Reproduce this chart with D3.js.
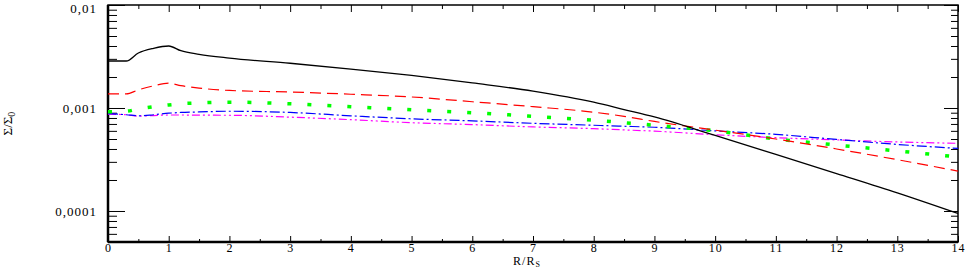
<!DOCTYPE html>
<html>
<head>
<meta charset="utf-8">
<script src="https://cdn.jsdelivr.net/npm/d3@7"></script>
<style>
  body { margin: 0; background: #fff; }
  svg text { font-family: "Liberation Serif", "DejaVu Serif", serif; }
</style>
</head>
<body>
<div id="chart"></div>
<script>
// radius values (R/Rs) shared by all curves
var radius = [0, 0.3, 0.5, 0.75, 1, 1.2, 1.5, 2, 3, 4, 5, 6, 7, 8, 8.5, 9, 10, 11, 12, 13, 14];

// surface density ratio, one array per curve
var sigmaBlack   = [2.86e-3, 2.86e-3, 3.42e-3, 3.8e-3, 4.0e-3, 3.6e-3, 3.32e-3, 3.05e-3, 2.72e-3, 2.39e-3, 2.07e-3, 1.75e-3, 1.46e-3, 1.14e-3, 9.66e-4, 8.18e-4, 5.41e-4, 3.54e-4, 2.31e-4, 1.5e-4, 9.46e-5];
var sigmaRed     = [1.37e-3, 1.37e-3, 1.5e-3, 1.64e-3, 1.74e-3, 1.65e-3, 1.56e-3, 1.48e-3, 1.43e-3, 1.36e-3, 1.28e-3, 1.15e-3, 1.03e-3, 9.1e-4, 8.3e-4, 7.4e-4, 6.1e-4, 5.0e-4, 4.0e-4, 3.15e-4, 2.44e-4];
var sigmaGreen   = [9.2e-4, 9.3e-4, 9.8e-4, 1.03e-3, 1.07e-3, 1.1e-3, 1.12e-3, 1.14e-3, 1.1e-3, 1.03e-3, 9.6e-4, 9.0e-4, 8.3e-4, 7.6e-4, 7.2e-4, 6.8e-4, 6.0e-4, 5.0e-4, 4.37e-4, 3.83e-4, 3.35e-4];
var sigmaBlue    = [8.8e-4, 8.6e-4, 8.4e-4, 8.6e-4, 8.9e-4, 9.05e-4, 9.15e-4, 9.3e-4, 9.05e-4, 8.4e-4, 7.85e-4, 7.5e-4, 7.1e-4, 6.8e-4, 6.65e-4, 6.5e-4, 6.0e-4, 5.55e-4, 4.95e-4, 4.43e-4, 4.05e-4];
var sigmaMagenta = [8.7e-4, 8.6e-4, 8.35e-4, 8.45e-4, 8.55e-4, 8.55e-4, 8.52e-4, 8.5e-4, 8.15e-4, 7.7e-4, 7.2e-4, 6.9e-4, 6.55e-4, 6.3e-4, 6.13e-4, 5.96e-4, 5.5e-4, 5.15e-4, 4.9e-4, 4.68e-4, 4.54e-4];

var xTicks = [0, 1, 2, 3, 4, 5, 6, 7, 8, 9, 10, 11, 12, 13, 14];
var yTicks = [0.0001, 0.001, 0.01];
var yTickLabels = ["0,0001", "0,001", "0,01"];

var margin = {top: 5, right: 14, bottom: 26, left: 108},
    width = 972 - margin.left - margin.right,
    height = 268 - margin.top - margin.bottom;

var svg = d3.select("#chart")
  .append("svg")
    .attr("width", 972)
    .attr("height", 268)
  .append("g")
    .attr("transform", "translate(" + margin.left + "," + margin.top + ")");

var x = d3.scaleLinear().domain([0, 14]).range([0, width]);
var y = d3.scaleLog().domain([5e-5, 0.01]).range([height, 0]);

// minor ticks
var xMinor = d3.range(0.5, 14, 1);
var yMinor = [];
[1e-5, 1e-4, 1e-3].forEach(function(d) {
  for (var k = 2; k <= 9; k++) {
    var v = d * k;
    if (v >= 5e-5 && v <= 0.01) yMinor.push(v);
  }
});

function styleAxis(g) {
  g.select(".domain").remove();
  g.selectAll("line").attr("stroke", "#000").attr("stroke-width", 1);
}

// bottom
svg.append("g")
  .attr("transform", "translate(0," + height + ")")
  .call(d3.axisBottom(x).tickValues(xTicks).tickSize(-6).tickPadding(1))
  .call(styleAxis)
  .selectAll("text").style("font-size", "12px").attr("fill", "#000").style("letter-spacing", "1px");
svg.append("g")
  .attr("transform", "translate(0," + height + ")")
  .call(d3.axisBottom(x).tickValues(xMinor).tickSize(-3).tickFormat(""))
  .call(styleAxis);
// top
svg.append("g")
  .call(d3.axisTop(x).tickValues(xTicks).tickSize(-7).tickFormat(""))
  .call(styleAxis);
svg.append("g")
  .call(d3.axisTop(x).tickValues(xMinor).tickSize(-4).tickFormat(""))
  .call(styleAxis);
// left
svg.append("g")
  .call(d3.axisLeft(y).tickValues(yTicks).tickSize(-17).tickPadding(11)
    .tickFormat(function(d, i) { return yTickLabels[i]; }))
  .call(styleAxis)
  .selectAll("text")
    .style("font-size", "13px").attr("fill", "#000").style("letter-spacing", "1px")
    .attr("dy", function(d) { return d === 0.01 ? "0.55em" : "0.32em"; });
svg.append("g")
  .call(d3.axisLeft(y).tickValues(yMinor).tickSize(-9).tickFormat(""))
  .call(styleAxis);
// right
svg.append("g")
  .attr("transform", "translate(" + width + ",0)")
  .call(d3.axisRight(y).tickValues(yTicks).tickSize(-14).tickFormat(""))
  .call(styleAxis);
svg.append("g")
  .attr("transform", "translate(" + width + ",0)")
  .call(d3.axisRight(y).tickValues(yMinor).tickSize(-7).tickFormat(""))
  .call(styleAxis);

// frame
svg.append("rect")
  .attr("width", width).attr("height", height)
  .attr("fill", "none").attr("stroke", "#000").attr("stroke-width", 1.5);
svg.append("line").attr("x1", 0).attr("x2", 0).attr("y1", 0).attr("y2", height)
  .attr("stroke", "#000").attr("stroke-width", 2.5);
svg.append("line").attr("x1", 0).attr("x2", width).attr("y1", height).attr("y2", height)
  .attr("stroke", "#000").attr("stroke-width", 2.5);

// curves
var series = [
  {values: sigmaMagenta, color: "#ff00ff", dash: "8,3,2,3,2,3", w: 1.2},
  {values: sigmaBlue, color: "#0000ff", dash: "10,3,2,3", w: 1.2},
  {values: sigmaGreen, color: "#00ff00", dash: "4,16", w: 3.5},
  {values: sigmaRed, color: "#ff0000", dash: "11,6", w: 1.2},
  {values: sigmaBlack, color: "#000000", dash: null, w: 1.3}
];

var line = d3.line()
  .x(function(d) { return x(d[0]); })
  .y(function(d) { return y(d[1]); })
  .curve(d3.curveMonotoneX);

series.forEach(function(s) {
  svg.append("path")
    .datum(radius.map(function(r, i) { return [r, s.values[i]]; }))
    .attr("fill", "none")
    .attr("stroke", s.color)
    .attr("stroke-width", s.w)
    .attr("stroke-dasharray", s.dash)
    .attr("d", line);
});

// axis titles
var xt = svg.append("text")
  .attr("x", width / 2 - 6)
  .attr("y", height + 23)
  .attr("text-anchor", "middle")
  .style("font-size", "12px")
  .style("letter-spacing", "1px");
xt.append("tspan").text("R/R");
xt.append("tspan").attr("dy", 1.5).style("font-size", "8px").text("S");

var yt = svg.append("text")
  .attr("transform", "translate(" + (-96) + "," + (height / 2) + ") rotate(-90)")
  .attr("text-anchor", "middle")
  .style("font-size", "13px");
yt.append("tspan").text("Σ/Σ");
yt.append("tspan").attr("dy", 3).style("font-size", "10px").text("0");
</script>
</body>
</html>
